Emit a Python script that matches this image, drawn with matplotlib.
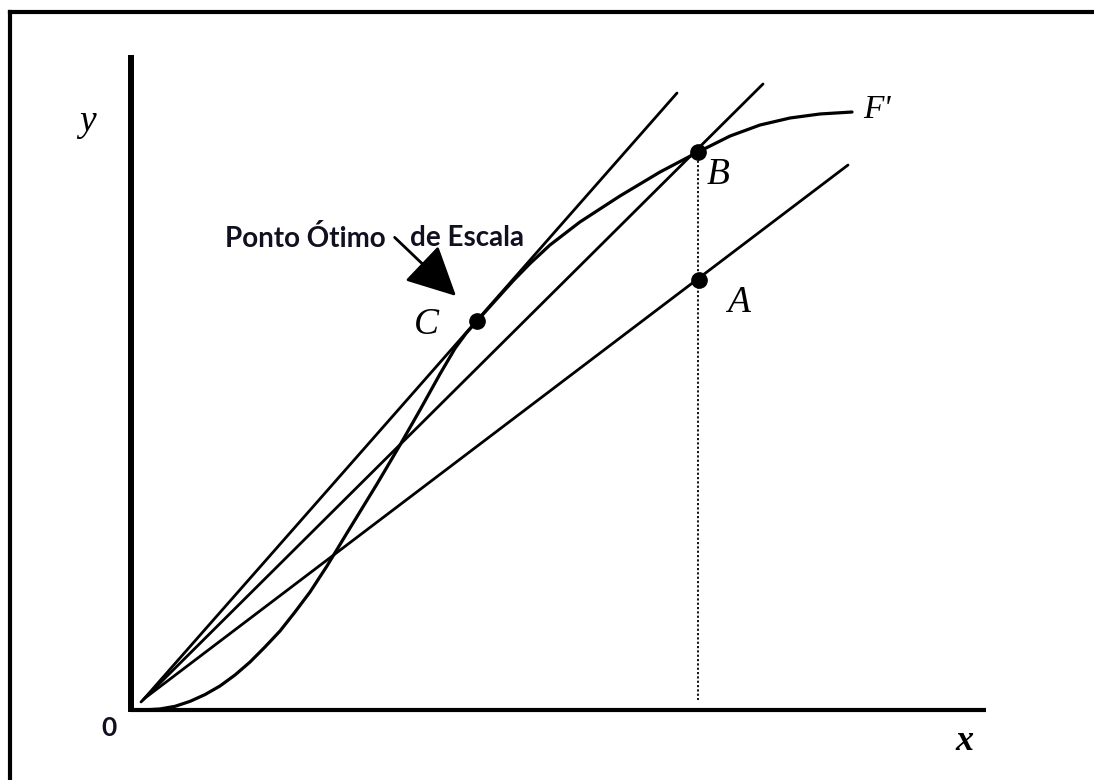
import matplotlib
matplotlib.use("Agg")
import matplotlib.pyplot as plt
from matplotlib.patches import FancyArrowPatch

# Production frontier F' (S-shaped), input x vs output y
curve_x = [0.000, 0.175, 0.339, 0.515, 0.690, 0.865, 1.041, 1.216, 1.392,
           1.567, 1.743, 1.918, 2.094, 2.292, 2.526, 2.877, 3.146, 3.380,
           3.614, 3.789, 3.918, 4.047, 4.257, 4.468, 4.667, 4.901, 5.251,
           5.719, 6.187, 6.632, 7.006, 7.357, 7.708, 8.058, 8.433]
curve_y = [0.000, 0.002, 0.012, 0.043, 0.101, 0.180, 0.281, 0.409, 0.561,
           0.737, 0.924, 1.146, 1.380, 1.684, 2.070, 2.643, 3.099, 3.509,
           3.930, 4.228, 4.404, 4.550, 4.784, 5.018, 5.222, 5.439, 5.708,
           6.012, 6.292, 6.526, 6.713, 6.842, 6.924, 6.971, 6.994]

# Rays from the origin: ([x_start, x_end], [y_start, y_end])
ray_c = ([0.140, 6.386], [0.117, 7.216])
ray_b = ([0.117, 7.392], [0.094, 7.322])
ray_a = ([0.164, 8.386], [0.140, 6.374])

# Labelled points A, B, C
point_names = ["A", "B", "C"]
point_x = [6.643, 6.632, 4.047]
point_y = [5.029, 6.526, 4.550]

PX = 85.5  # pixels per unit
fig = plt.figure(figsize=(10.94, 7.80), dpi=100)
ax = fig.add_axes([0, 0, 1, 1])
ax.set_xlim(-131 / PX, (1094 - 131) / PX)
ax.set_ylim(-70 / PX, 710 / PX)
ax.axis("off")

# outer frame
fx0, fy0 = (10 - 131) / PX, (710 - 11.5) / PX
ax.plot([fx0, fx0], [fy0, -2], color="black", lw=3.0, solid_capstyle="projecting")
ax.plot([fx0, 20], [fy0, fy0], color="black", lw=3.0, solid_capstyle="projecting")

# axes
ax.plot([0, 0], [-0.02, 7.66], color="black", lw=4.3, solid_capstyle="butt")
ax.plot([0, 10.0], [0, 0], color="black", lw=3.0, solid_capstyle="butt")

# frontier and rays
ax.plot(curve_x, curve_y, color="black", lw=2.3, solid_capstyle="round",
        solid_joinstyle="round")
for rx, ry in (ray_c, ray_b, ray_a):
    ax.plot(rx, ry, color="black", lw=2.0, solid_capstyle="round")

# vertical dotted line from B down to the x axis
ax.plot([point_x[1], point_x[1]], [point_y[1], 0.12], color="black", lw=1.3,
        linestyle=(0, (1.2, 1.2)))

ax.plot(point_x, point_y, "o", color="black", markersize=11)

serif = dict(family="Liberation Serif", style="italic", color="black")
ax.text(3.46, 4.51, "C", fontsize=27, ha="center", va="center", **serif)
ax.text(6.87, 6.26, "B", fontsize=27, ha="center", va="center", **serif)
ax.text(7.10, 4.76, "A", fontsize=27, ha="center", va="center", **serif)
ax.text(8.56, 7.02, "F'", fontsize=24, ha="left", va="center", **serif)
ax.text(-0.51, 6.88, "y", fontsize=27, ha="center", va="center", **serif)
ax.text(9.75, -0.37, "x", fontsize=26, ha="center", va="center", weight="bold",
        **serif)
ax.text(-0.26, -0.21, "0", fontsize=19, ha="center", va="center",
        family="Lato", weight="bold", color="#101020")

note = dict(fontsize=20, family="Lato", weight="bold", color="#101020",
            va="center", ha="left")
ax.text(1.10, 5.52, "Ponto Ótimo", **note)
ax.text(3.26, 5.52, "de Escala", **note)

arrow = FancyArrowPatch((3.06, 5.55), (3.825, 4.82),
                        arrowstyle="-|>,head_length=2.2,head_width=1.1",
                        mutation_scale=14, color="black", lw=2.0)
ax.add_patch(arrow)

fig.savefig("out.png", dpi=100)
